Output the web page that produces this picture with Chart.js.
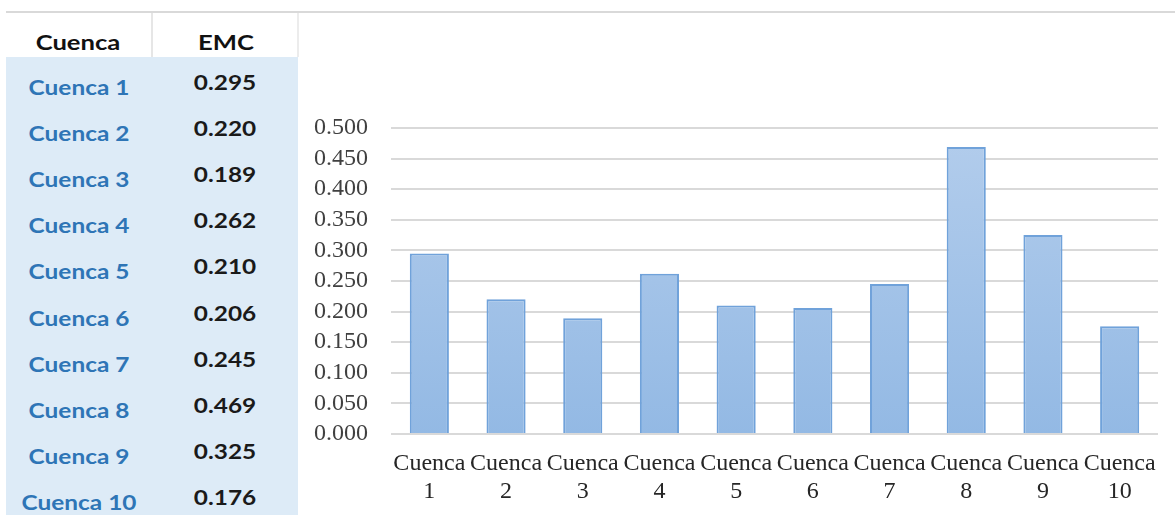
<!DOCTYPE html>
<html>
<head>
<meta charset="utf-8">
<script src="https://cdn.jsdelivr.net/npm/chart.js@4/dist/chart.umd.min.js"></script>
<style>
  html, body { margin: 0; padding: 0; background: #fff; }
  body { width: 1175px; height: 515px; position: relative; overflow: hidden; }
  #topline { position: absolute; left: 6px; top: 11px; width: 1169px; height: 2px; background: #d9d9d9; }
  #table { position: absolute; left: 6px; top: 13px; width: 292px; height: 502px; font-family: Lato, "Open Sans", sans-serif; font-weight: 700; }
  #head { position: absolute; left: 0; top: 0; width: 292px; height: 44px; background: #fff; }
  #head .sep { position: absolute; left: 145px; top: 0; width: 2px; height: 44px; background: #e6e6e6; }
  #head .edge { position: absolute; left: 291px; top: 0; width: 2px; height: 44px; background: #ececec; }
  #body { position: absolute; left: 0; top: 44px; width: 292px; height: 458px; background: #ddebf7; }
  .cell { position: absolute; white-space: nowrap; transform: translate(-50%, -50%) scaleX(1.22); font-size: 20px; }
  .hd { color: #111; font-size: 21px; }
  .nm { color: #2e75b6; }
  .vl { color: #1a1a1a; }
  #wrap { position: absolute; left: 300px; top: 0; width: 875px; height: 515px; }
</style>
</head>
<body>
<div id="topline"></div>
<div id="table">
  <div id="head"><div class="sep"></div><div class="edge"></div></div>
  <div id="body"></div>
</div>
<div id="wrap"><canvas id="c" width="875" height="515"></canvas></div>
<script>
// Basin names and their EMC values
const basins = ['Cuenca 1','Cuenca 2','Cuenca 3','Cuenca 4','Cuenca 5','Cuenca 6','Cuenca 7','Cuenca 8','Cuenca 9','Cuenca 10'];
const emc = [0.295, 0.220, 0.189, 0.262, 0.210, 0.206, 0.245, 0.469, 0.325, 0.176];
const headers = ['Cuenca', 'EMC'];
const yTicks = [0, 0.05, 0.1, 0.15, 0.2, 0.25, 0.3, 0.35, 0.4, 0.45, 0.5];

// Side table
const table = document.getElementById('table');
function addCell(parent, cls, text, x, y) {
  const d = document.createElement('div');
  d.className = 'cell ' + cls;
  d.textContent = text;
  d.style.left = x + 'px';
  d.style.top = y + 'px';
  parent.appendChild(d);
}
addCell(table, 'hd', headers[0], 72, 28);
addCell(table, 'hd', headers[1], 220, 28);
const rowStep = 46.1;
basins.forEach((b, i) => {
  addCell(table, 'nm', b, 73, 74 + i * rowStep);
  addCell(table, 'vl', emc[i].toFixed(3), 219, 69 + i * rowStep);
});

// Bar chart
const ctx = document.getElementById('c').getContext('2d');
const serif = "'Liberation Serif', 'Times New Roman', serif";

function barGradient(context) {
  const area = context.chart.chartArea;
  if (!area) return '#a9c6ea';
  const g = context.chart.ctx.createLinearGradient(0, area.top, 0, area.bottom);
  g.addColorStop(0, '#b3cdec');
  g.addColorStop(1, '#93b9e4');
  return g;
}

new Chart(ctx, {
  type: 'bar',
  data: {
    labels: basins.map(b => b.split(' ')),
    datasets: [{
      data: emc,
      backgroundColor: barGradient,
      borderColor: '#70a2da',
      borderWidth: 2,
      borderSkipped: 'bottom',
      barPercentage: 0.51,
      categoryPercentage: 1.0
    }]
  },
  options: {
    responsive: false,
    animation: false,
    layout: { padding: { top: 128, right: 17, bottom: 0, left: 0 } },
    plugins: { legend: { display: false }, tooltip: { enabled: false } },
    scales: {
      x: {
        grid: { display: false, drawTicks: false },
        border: { display: false },
        ticks: {
          color: '#262626',
          font: { family: serif, size: 24, lineHeight: 1.2 },
          padding: 15,
          maxRotation: 0,
          autoSkip: false
        },
        afterFit: s => { s.height = 81; }
      },
      y: {
        min: 0,
        max: 0.5,
        afterBuildTicks: s => { s.ticks = yTicks.map(v => ({ value: v })); },
        grid: { color: '#d9d9d9', lineWidth: 2, drawTicks: false },
        border: { display: false },
        ticks: {
          color: '#404040',
          font: { family: serif, size: 24, lineHeight: 1 },
          padding: 23,
          autoSkip: false,
          callback: v => Number(v).toFixed(3)
        },
        afterFit: s => { s.width = 91; }
      }
    }
  }
});
</script>
</body>
</html>
